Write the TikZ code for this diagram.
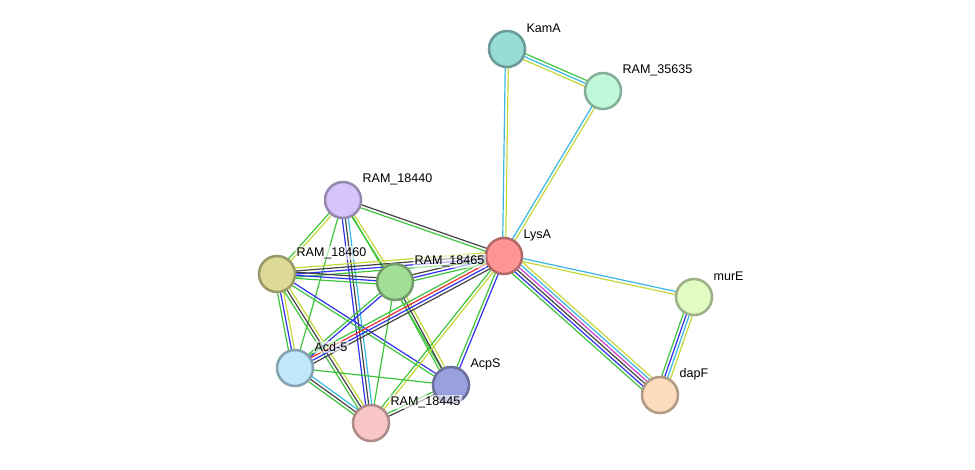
\documentclass[tikz,border=0pt]{standalone}
\usepackage{fontspec}
\setmainfont{Liberation Sans}
\usetikzlibrary{calc,backgrounds}

\definecolor{cnb}{HTML}{3DC43D}
\definecolor{cfu}{HTML}{F03030}
\definecolor{cco}{HTML}{3030F0}
\definecolor{cex}{HTML}{444444}
\definecolor{cxp}{HTML}{D040D0}
\definecolor{cdb}{HTML}{38B8E0}
\definecolor{ctm}{HTML}{C4D838}

% from, to, number of lines, colours
\newcommand{\strEdge}[4]{%
  \foreach \c [count=\i] in {#4}{
    \pgfmathsetmacro\off{(\i-(#3+1)/2)*2.3}
    \draw[\c,line width=0.9pt] ($(#1.center)!\off pt!90:(#2.center)$) -- ($(#2.center)!\off pt!-90:(#1.center)$);
  }}

\tikzset{
  prot/.style={circle,draw=#1!70!black,fill=#1,line width=1.9pt,minimum size=27pt,inner sep=0pt},
  plab/.style={anchor=west,inner sep=1pt,fill=white,fill opacity=0.6,text opacity=1,font=\fontsize{9.4}{11}\selectfont}
}

\begin{document}
\begin{tikzpicture}[x=0.75pt,y=-0.75pt]
		\useasboundingbox (0,0) rectangle (975,469);
		\definecolor{fKamA}{HTML}{97DDD6}
		\definecolor{fR35635}{HTML}{C0F8DA}
		\definecolor{fR18440}{HTML}{D6C4FA}
		\definecolor{fLysA}{HTML}{FF9696}
		\definecolor{fR18460}{HTML}{DCDA96}
		\definecolor{fR18465}{HTML}{A2DE96}
		\definecolor{fmurE}{HTML}{E0FCC2}
		\definecolor{fAcd}{HTML}{C0E8FC}
		\definecolor{fAcpS}{HTML}{98A0DE}
		\definecolor{fdapF}{HTML}{FCDCBC}
		\definecolor{fR18445}{HTML}{F8C6C6}
		\node[prot=fKamA] (kama) at (507,49) {};
		\node[prot=fR35635] (r35635) at (603,91) {};
		\node[prot=fR18440] (r18440) at (343,200) {};
		\node[prot=fLysA] (lysa) at (504,256) {};
		\node[prot=fR18460] (r18460) at (277,274) {};
		\node[prot=fR18465] (r18465) at (395,282) {};
		\node[prot=fmurE] (mure) at (694,297) {};
		\node[prot=fAcd] (acd) at (295,368) {};
		\node[prot=fAcpS] (acps) at (451,385) {};
		\node[prot=fdapF] (dapf) at (660,395) {};
		\node[prot=fR18445] (r18445) at (371,423) {};
		\begin{scope}[on background layer]
			\strEdge{r35635}{kama}{3}{cnb,cdb,ctm}
			\strEdge{kama}{lysa}{2}{cdb,ctm}
			\strEdge{r35635}{lysa}{2}{cdb,ctm}
			\strEdge{mure}{lysa}{2}{cdb,ctm}
			\strEdge{lysa}{dapf}{6}{cnb,cco,cex,cxp,cdb,ctm}
			\strEdge{mure}{dapf}{4}{cnb,cco,cdb,ctm}
			\strEdge{r18440}{lysa}{2}{cnb,cex}
			\strEdge{r18440}{r18460}{2}{cnb,ctm}
			\strEdge{r18440}{r18465}{2}{cnb,ctm}
			\strEdge{r18440}{acps}{1}{cnb}
			\strEdge{r18440}{acd}{1}{cnb}
			\strEdge{r18440}{r18445}{3}{cco,cex,cdb}
			\strEdge{r18460}{lysa}{4}{cnb,cco,cex,ctm}
			\strEdge{r18460}{r18465}{3}{cnb,cco,cex}
			\strEdge{r18460}{acd}{3}{cnb,cco,ctm}
			\strEdge{r18460}{r18445}{3}{cnb,cex,ctm}
			\strEdge{r18460}{acps}{2}{cnb,cco}
			\strEdge{r18465}{lysa}{3}{cnb,cco,cex}
			\strEdge{r18465}{acd}{2}{cnb,cco}
			\strEdge{r18465}{r18445}{1}{cnb}
			\strEdge{r18465}{acps}{3}{cnb,cex,ctm}
			\strEdge{lysa}{acd}{4}{cnb,cfu,cco,cex}
			\strEdge{lysa}{r18445}{2}{cnb,ctm}
			\strEdge{lysa}{acps}{2}{cnb,cco}
			\strEdge{acd}{acps}{1}{cnb}
			\strEdge{acd}{r18445}{3}{cnb,cex,cdb}
			\strEdge{acps}{r18445}{2}{cnb,cex}
		\end{scope}
		\node[plab] (lkama) at (525,28) {KamA};
		\node[plab] (lr35635) at (621,70) {RAM\_35635};
		\node[plab] (lr18440) at (361,179) {RAM\_18440};
		\node[plab] (llysa) at (522,235) {LysA};
		\node[plab] (lr18460) at (295,253) {RAM\_18460};
		\node[plab] (lr18465) at (413,261) {RAM\_18465};
		\node[plab] (lmure) at (712,276) {murE};
		\node[plab] (lacd) at (313,347) {Acd-5};
		\node[plab] (lacps) at (469,364) {AcpS};
		\node[plab] (ldapf) at (678,374) {dapF};
		\node[plab] (lr18445) at (389,402) {RAM\_18445};
	\end{tikzpicture}
\end{document}
